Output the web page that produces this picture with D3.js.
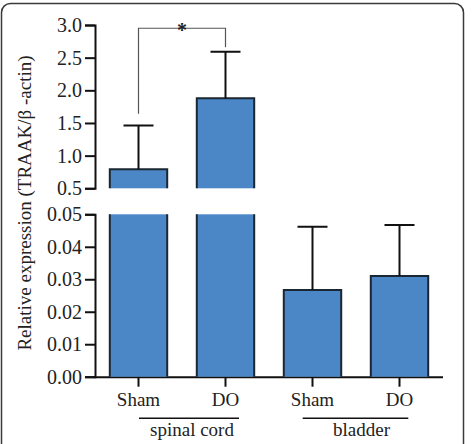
<!DOCTYPE html>
<html>
<head>
<meta charset="utf-8">
<script src="https://cdn.jsdelivr.net/npm/d3@7"></script>
<style>
  body { margin: 0; background: #fff; }
  svg text { font-family: 'Liberation Serif', 'Times New Roman'; fill: #222; }
</style>
</head>
<body>
<script>
// DATA
const categories = ["spinal-Sham", "spinal-DO", "bladder-Sham", "bladder-DO"];
const tickNames = ["Sham", "DO", "Sham", "DO"];
const means = [0.79, 1.88, 0.0267, 0.0310];
const errors = [0.67, 0.71, 0.0195, 0.0157];
const groupNames = ["spinal cord", "bladder"];
const upperTicks = [0.5, 1.0, 1.5, 2.0, 2.5, 3.0];
const lowerTicks = [0.00, 0.01, 0.02, 0.03, 0.04, 0.05];

// SIZES
const W = 473, H = 444;
const FONT = "'Liberation Serif', 'Times New Roman'";
const barColor = "#4b87c6";
const edge = "#1b2633";

var svg = d3.select("body").append("svg")
  .attr("width", W)
  .attr("height", H);

// FRAME
svg.append("rect")
  .attr("x", 1.5).attr("y", 3.5)
  .attr("width", 462).attr("height", 470)
  .attr("rx", 9)
  .attr("fill", "none")
  .attr("stroke", "#3a3a3a")
  .attr("stroke-width", 1.5);

// SCALES
var x = d3.scaleBand()
  .domain(categories)
  .range([95, 443])
  .paddingInner(0.34)
  .paddingOuter(0.17);

var yTop = d3.scaleLinear().domain([0.5, 3.0]).range([188.3, 25]);
var yBot = d3.scaleLinear().domain([0, 0.05]).range([376.7, 214.3]);

// AXES
function styleAxis(g, size) {
  g.attr("font-family", FONT);
  g.select(".domain").attr("stroke", "#111").attr("stroke-width", 2);
  g.selectAll(".tick line").attr("stroke", "#111").attr("stroke-width", 2);
  g.selectAll(".tick text")
    .style("font-family", FONT)
    .style("font-size", (size || 19) + "px")
    .attr("fill", "#222");
}

svg.append("g")
  .attr("transform", "translate(95,0)")
  .call(d3.axisLeft(yTop).tickValues(upperTicks).tickFormat(d3.format(".1f")).tickSizeOuter(0).tickSize(10).tickPadding(3))
  .call(styleAxis, 20);

svg.append("g")
  .attr("transform", "translate(95,0)")
  .call(d3.axisLeft(yBot).tickValues(lowerTicks).tickFormat(d3.format(".2f")).tickSizeOuter(0).tickSize(10).tickPadding(3))
  .call(styleAxis, 20);

// x axis
var xAxis = svg.append("g")
  .attr("transform", "translate(0," + yBot(0) + ")")
  .call(d3.axisBottom(x).tickFormat((d, i) => tickNames[i]).tickSizeOuter(0).tickSize(10).tickPadding(6))
  .call(styleAxis, 19);
xAxis.select(".domain").attr("d", "M94,0.5H443");

// BARS
categories.forEach(function(c, i) {
  var v = means[i];
  var x0 = x(c), x1 = x(c) + x.bandwidth();
  // lower panel part
  var top = yBot(Math.min(v, 0.05));
  var base = yBot(0);
  svg.append("rect")
    .attr("x", x0).attr("y", top)
    .attr("width", x.bandwidth()).attr("height", base - top)
    .attr("fill", barColor);
  var p = v > 0.05
    ? "M" + x0 + "," + top + "V" + base + "M" + x1 + "," + top + "V" + base
    : "M" + x0 + "," + base + "V" + top + "H" + x1 + "V" + base;
  svg.append("path").attr("d", p).attr("fill", "none").attr("stroke", edge).attr("stroke-width", 2);

  // upper panel part
  if (v > 0.5) {
    var t2 = yTop(v), b2 = yTop(0.5);
    svg.append("rect")
      .attr("x", x0).attr("y", t2)
      .attr("width", x.bandwidth()).attr("height", b2 - t2)
      .attr("fill", barColor);
    svg.append("path")
      .attr("d", "M" + x0 + "," + b2 + "V" + t2 + "H" + x1 + "V" + b2)
      .attr("fill", "none").attr("stroke", edge).attr("stroke-width", 2);
  }

  // error bar
  var sc = v > 0.5 ? yTop : yBot;
  var cx = x0 + x.bandwidth() / 2;
  svg.append("path")
    .attr("d", "M" + cx + "," + sc(v) + "V" + sc(v + errors[i]) + "M" + (cx - 15) + "," + sc(v + errors[i]) + "H" + (cx + 15))
    .attr("fill", "none").attr("stroke", "#111").attr("stroke-width", 2);
});

// SIGNIFICANCE BRACKET
var c0 = x(categories[0]) + x.bandwidth() / 2;
var c1 = x(categories[1]) + x.bandwidth() / 2;
var by = yTop(2.95);
svg.append("path")
  .attr("d", "M" + c0 + "," + yTop(means[0] + errors[0] + 0.18) + "V" + by + "H" + c1 + "V" + yTop(means[1] + errors[1] + 0.07))
  .attr("fill", "none").attr("stroke", "#555").attr("stroke-width", 1.2);
svg.append("text")
  .attr("x", (c0 + c1) / 2).attr("y", 37)
  .attr("text-anchor", "middle")
  .style("font-size", "20px")
  .style("font-weight", "bold")
  .text("*");

// GROUP LABELS
const groupLines = [[139, 239], [302.7, 408.3]];
const groupText = [192, 361.5];
groupNames.forEach(function(g, i) {
  svg.append("line")
    .attr("x1", groupLines[i][0]).attr("x2", groupLines[i][1])
    .attr("y1", 418.3).attr("y2", 418.3)
    .attr("stroke", "#111").attr("stroke-width", 1.5);
  svg.append("text")
    .attr("x", groupText[i]).attr("y", 436)
    .attr("text-anchor", "middle")
    .style("font-size", "19px")
    .text(g);
});

// Y LABEL
svg.append("text")
  .attr("transform", "translate(31,203) rotate(-90)")
  .attr("text-anchor", "middle")
  .style("font-size", "19px")
  .text("Relative expression (TRAAK/β -actin)");
</script>
</body>
</html>
